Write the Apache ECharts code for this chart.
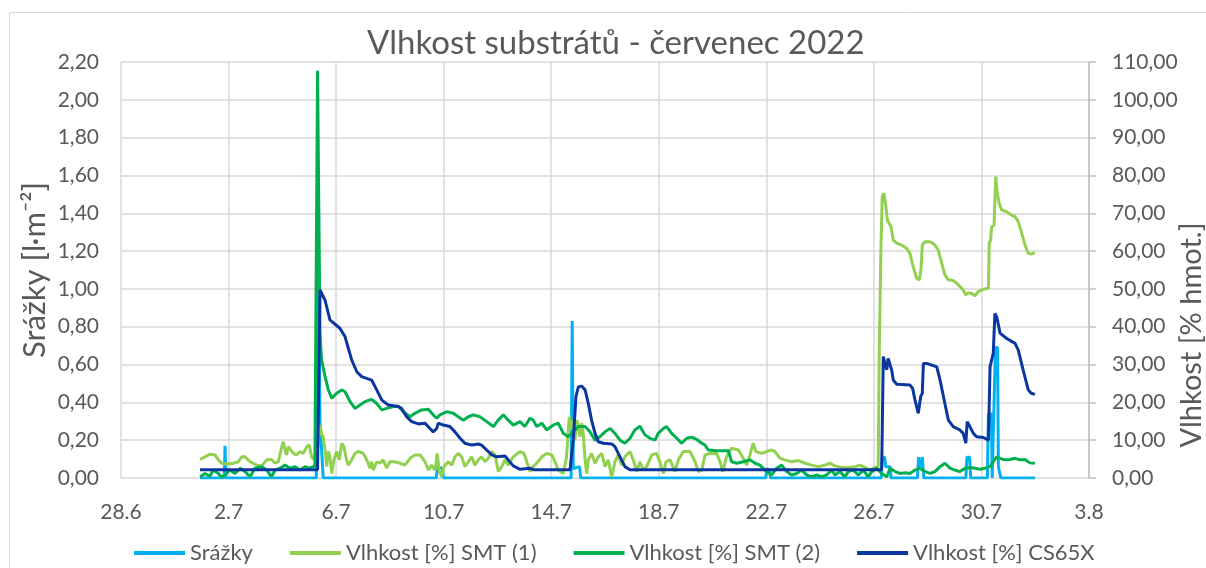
<!DOCTYPE html>
<html>
<head>
<meta charset="utf-8">
<title>Vlhkost substrátů - červenec 2022</title>
<script src="https://cdn.jsdelivr.net/npm/echarts/dist/echarts.min.js"></script>
<style>
    html, body { margin: 0; padding: 0; background: #fff; }
    #chart { width: 1206px; height: 568px; }
</style>
</head>
<body>
<div id="chart"></div>
<script>
// x = dny od 28.6. 00:00 (3 = 1.7., 34 = 1.8.)
var xTicks = { min: 0, max: 36, step: 4 };
var leftTicks = { min: 0, max: 2.2, step: 0.2 };
var rightTicks = { min: 0, max: 110, step: 10 };

// Srážky [l/m2] - levá osa
var srazky = [
    [2.94, 0], [3.84, 0], [3.87, 0.17], [3.90, 0],
    [7.26, 0], [7.30, 0.30], [7.34, 1.32], [7.40, 0.30], [7.48, 0.10], [7.52, 0],
    [11.72, 0], [11.78, 0.06], [11.95, 0.05], [12.00, 0],
    [16.74, 0], [16.78, 0.83], [16.82, 0.05], [17.05, 0.06], [17.10, 0],
    [23.98, 0], [24.02, 0.05], [24.12, 0.04], [24.16, 0],
    [28.27, 0], [28.31, 0.11], [28.40, 0.11], [28.44, 0.06], [28.60, 0.06], [28.64, 0],
    [29.62, 0], [29.66, 0.11], [29.72, 0.06], [29.80, 0.11], [29.86, 0],
    [31.42, 0], [31.46, 0.11], [31.56, 0.11], [31.60, 0],
    [32.22, 0], [32.26, 0.34], [32.37, 0.34], [32.40, 0],
    [32.47, 0], [32.52, 0.69], [32.60, 0.69], [32.63, 0.06], [32.68, 0.06], [32.72, 0],
    [33.99, 0]
];

// Vlhkost [%] SMT (1) - pravá osa
var smt1 = [
    [2.94, 4.9], [3.12, 5.6], [3.31, 6.3], [3.50, 6.1], [3.62, 4.8], [3.74, 3.9], [3.93, 3.7],
    [4.18, 3.9], [4.36, 4.3], [4.49, 5.6], [4.61, 5.6], [4.80, 4.3], [5.05, 3.4], [5.23, 3.2],
    [5.42, 4.8], [5.60, 4.9], [5.73, 3.9], [5.85, 4.3], [5.98, 8.3], [6.04, 9.6], [6.10, 7.4],
    [6.16, 6.1], [6.22, 8.3], [6.28, 8.7], [6.41, 6.5], [6.53, 6.1], [6.66, 7.0], [6.78, 6.5],
    [6.91, 8.3], [7.00, 8.7], [7.09, 5.6], [7.21, 4.8], [7.28, 5.6], [7.40, 14.0], [7.46, 11.8],
    [7.52, 10.9], [7.59, 7.4], [7.65, 3.0], [7.71, 7.0], [7.77, 5.6], [7.84, 1.2], [7.92, 4.8],
    [8.02, 7.0], [8.12, 4.8], [8.21, 9.2], [8.29, 8.3], [8.39, 4.8], [8.45, 3.4], [8.58, 4.8],
    [8.70, 6.5], [8.82, 7.0], [9.01, 6.5], [9.14, 4.8], [9.26, 2.6], [9.32, 4.3], [9.38, 2.1],
    [9.51, 4.3], [9.63, 3.9], [9.75, 4.8], [9.88, 2.6], [10.00, 4.3], [10.19, 4.3], [10.38, 3.9],
    [10.56, 3.4], [10.75, 5.2], [10.93, 6.1], [11.12, 6.1], [11.31, 4.3], [11.43, 2.1], [11.55, 3.4],
    [11.68, 2.1], [11.76, 6.5], [11.84, 1.7], [11.93, 0.3], [12.01, 3.0], [12.17, 4.3], [12.30, 3.4],
    [12.42, 5.6], [12.54, 6.5], [12.67, 5.6], [12.79, 3.0], [12.92, 4.3], [13.04, 5.6], [13.16, 3.4],
    [13.29, 4.8], [13.41, 5.6], [13.54, 4.3], [13.66, 5.2], [13.79, 7.0], [13.91, 6.1], [14.03, 1.7],
    [14.16, 3.0], [14.28, 4.8], [14.40, 3.4], [14.59, 5.6], [14.84, 7.0], [14.99, 6.5], [15.09, 4.3],
    [15.21, 1.7], [15.33, 3.0], [15.46, 3.9], [15.65, 5.6], [15.83, 6.5], [16.02, 6.1], [16.14, 4.3],
    [16.26, 2.1], [16.45, 1.2], [16.57, 5.6], [16.67, 16.2], [16.73, 12.7], [16.82, 15.3], [16.88, 10.0],
    [16.95, 15.3], [17.01, 13.6], [17.07, 10.9], [17.13, 14.5], [17.19, 11.8], [17.26, 4.8], [17.32, 1.2],
    [17.38, 4.8], [17.50, 6.5], [17.63, 3.9], [17.75, 5.6], [17.88, 6.5], [18.00, 3.0], [18.12, 4.8],
    [18.25, 0.3], [18.37, 4.3], [18.49, 6.1], [18.62, 3.4], [18.74, 5.6], [18.93, 7.0], [19.05, 4.8],
    [19.18, 1.7], [19.30, 4.3], [19.42, 2.1], [19.55, 3.0], [19.74, 6.1], [19.92, 6.5], [20.04, 4.3],
    [20.17, 1.2], [20.27, 4.3], [20.42, 4.8], [20.60, 1.7], [20.73, 4.8], [20.91, 7.0], [21.16, 7.0],
    [21.35, 4.3], [21.47, 1.7], [21.60, 2.1], [21.72, 6.1], [21.91, 6.5], [22.15, 6.5], [22.28, 4.3],
    [22.38, 1.7], [22.52, 5.6], [22.71, 7.9], [22.96, 7.4], [23.14, 5.2], [23.27, 3.4], [23.39, 6.1],
    [23.51, 9.2], [23.61, 7.0], [23.83, 6.5], [24.01, 7.0], [24.20, 7.4], [24.32, 7.0], [24.51, 5.2],
    [24.69, 4.8], [24.94, 4.3], [25.19, 4.6], [25.44, 3.9], [25.69, 3.4], [25.93, 3.0], [26.18, 3.4],
    [26.37, 3.9], [26.55, 3.2], [26.80, 2.8], [27.05, 2.8], [27.30, 3.0], [27.48, 3.4], [27.67, 2.8],
    [27.85, 2.1], [28.04, 2.8], [28.16, 3.0], [28.20, 33.8], [28.26, 60.3], [28.31, 74.4], [28.37, 75.3],
    [28.45, 71.7], [28.50, 68.2], [28.57, 68.7], [28.64, 66.4], [28.72, 62.9], [28.85, 62.1], [29.03, 61.6],
    [29.22, 60.7], [29.34, 59.4], [29.46, 55.9], [29.59, 52.8], [29.69, 52.4], [29.75, 55.0], [29.80, 61.6],
    [29.90, 62.5], [30.09, 62.5], [30.27, 61.6], [30.39, 60.3], [30.52, 56.8], [30.64, 53.7], [30.77, 52.4],
    [30.95, 52.2], [31.08, 51.5], [31.20, 50.6], [31.32, 49.7], [31.42, 48.4], [31.51, 49.0], [31.64, 48.8],
    [31.76, 48.2], [31.88, 49.3], [32.07, 49.9], [32.26, 50.2], [32.29, 62.1], [32.34, 62.9], [32.38, 66.4],
    [32.47, 66.9], [32.53, 79.7], [32.59, 75.3], [32.66, 72.6], [32.75, 70.9], [32.94, 70.4], [33.12, 69.5],
    [33.25, 69.1], [33.37, 67.8], [33.50, 64.7], [33.62, 61.6], [33.74, 59.4], [33.85, 59.2], [33.99, 59.6]
];

// Vlhkost [%] SMT (2) - pravá osa
var smt2 = [
    [2.94, 0.3], [3.12, 1.2], [3.31, 0.5], [3.43, 2.1], [3.62, 1.2], [3.74, 0.2], [3.87, 0.8],
    [4.05, 2.1], [4.24, 1.2], [4.43, 2.6], [4.61, 1.7], [4.80, 0.3], [4.98, 2.6], [5.23, 3.0],
    [5.42, 2.1], [5.60, 0.3], [5.73, 2.1], [5.91, 2.6], [6.10, 3.4], [6.28, 2.6], [6.47, 3.0],
    [6.66, 2.1], [6.84, 3.0], [7.03, 2.6], [7.21, 3.2], [7.31, 107.7], [7.40, 38.3], [7.46, 31.2],
    [7.59, 26.8], [7.71, 23.3], [7.84, 21.1], [8.02, 22.4], [8.21, 23.3], [8.33, 22.8], [8.52, 20.2],
    [8.70, 18.4], [8.89, 19.3], [9.07, 20.2], [9.32, 20.8], [9.51, 19.7], [9.70, 18.0], [9.88, 18.4],
    [10.13, 18.9], [10.31, 19.0], [10.50, 17.5], [10.75, 16.2], [10.93, 17.1], [11.18, 18.0], [11.43, 18.2],
    [11.61, 16.7], [11.74, 15.8], [11.86, 16.7], [12.11, 17.5], [12.36, 17.1], [12.54, 16.2], [12.73, 15.3],
    [12.92, 16.2], [13.10, 16.7], [13.35, 16.2], [13.60, 14.9], [13.85, 13.6], [14.03, 15.3], [14.22, 16.7],
    [14.40, 15.3], [14.59, 14.0], [14.84, 14.9], [15.02, 13.6], [15.21, 15.8], [15.33, 15.3], [15.46, 13.6],
    [15.65, 14.5], [15.83, 12.7], [16.08, 14.0], [16.26, 14.5], [16.45, 11.8], [16.63, 10.9], [16.82, 12.2],
    [17.01, 13.6], [17.26, 13.6], [17.44, 12.2], [17.63, 10.0], [17.81, 10.9], [18.00, 12.2], [18.19, 13.1],
    [18.37, 11.8], [18.56, 10.0], [18.74, 9.2], [18.93, 10.5], [19.11, 12.7], [19.30, 13.7], [19.49, 11.4],
    [19.67, 10.5], [19.86, 10.0], [19.98, 11.8], [20.17, 13.1], [20.29, 13.6], [20.48, 11.8], [20.67, 10.5],
    [20.85, 9.2], [21.04, 10.5], [21.22, 10.8], [21.41, 10.2], [21.60, 9.2], [21.72, 8.7], [21.84, 7.4],
    [22.15, 7.2], [22.59, 7.2], [22.71, 4.3], [22.90, 3.9], [23.14, 4.3], [23.39, 4.8], [23.58, 3.9],
    [23.76, 3.4], [24.01, 1.7], [24.20, 0.8], [24.38, 2.6], [24.57, 3.4], [24.76, 1.7], [24.94, 0.8],
    [25.13, 1.2], [25.31, 2.1], [25.50, 0.8], [25.69, 0.3], [25.87, 0.8], [26.06, 0.3], [26.24, 0.8],
    [26.43, 2.1], [26.55, 0.8], [26.74, 1.7], [26.92, 0.3], [27.05, 1.7], [27.23, 2.1], [27.42, 0.8],
    [27.61, 2.1], [27.79, 0.3], [27.92, 1.7], [28.10, 2.6], [28.29, 1.2], [28.48, 0.3], [28.60, 2.6],
    [28.79, 1.7], [28.97, 1.2], [29.16, 1.4], [29.34, 1.2], [29.53, 2.1], [29.71, 2.6], [29.90, 1.7],
    [30.09, 1.2], [30.27, 1.7], [30.46, 3.0], [30.64, 3.9], [30.83, 2.6], [31.01, 2.1], [31.20, 1.7],
    [31.39, 2.6], [31.57, 2.8], [31.76, 2.6], [31.94, 2.3], [32.13, 2.6], [32.32, 3.0], [32.44, 4.3],
    [32.57, 5.6], [32.69, 5.2], [32.87, 4.8], [33.06, 4.9], [33.25, 5.2], [33.43, 4.8], [33.62, 4.9],
    [33.80, 4.0], [33.99, 3.9]
];

// Vlhkost [%] CS65X - pravá osa
var cs65x = [
    [2.94, 2.2], [7.31, 2.2], [7.40, 49.7], [7.59, 47.0], [7.77, 41.8], [8.14, 39.6], [8.33, 37.4],
    [8.58, 31.2], [8.77, 28.1], [8.95, 26.8], [9.32, 25.9], [9.51, 23.3], [9.70, 20.6], [9.94, 19.3],
    [10.31, 18.9], [10.44, 18.4], [10.62, 16.2], [10.81, 14.9], [11.06, 14.3], [11.31, 14.5], [11.49, 13.1],
    [11.61, 12.2], [11.74, 13.1], [11.80, 14.5], [11.99, 14.0], [12.23, 13.6], [12.42, 12.2], [12.61, 10.5],
    [12.79, 9.2], [13.04, 8.7], [13.29, 9.0], [13.41, 8.7], [13.60, 7.4], [13.79, 6.1], [13.97, 5.6],
    [14.28, 5.8], [14.40, 4.8], [14.59, 3.2], [14.84, 2.3], [15.21, 2.6], [15.33, 2.2], [16.70, 2.2],
    [16.82, 10.0], [16.92, 21.5], [17.01, 24.1], [17.13, 24.3], [17.26, 23.3], [17.38, 19.7], [17.50, 15.3],
    [17.63, 11.8], [17.75, 9.6], [17.94, 9.2], [18.25, 9.0], [18.37, 8.3], [18.56, 5.6], [18.74, 3.0],
    [18.93, 2.2], [28.29, 2.2], [28.35, 32.1], [28.41, 30.3], [28.48, 28.6], [28.53, 31.6], [28.60, 31.6],
    [28.66, 28.6], [28.72, 25.9], [28.85, 24.8], [29.34, 24.6], [29.44, 23.7], [29.53, 20.6], [29.65, 17.1],
    [29.74, 21.5], [29.80, 22.4], [29.84, 30.3], [29.96, 30.3], [30.34, 29.4], [30.46, 25.9], [30.64, 19.7],
    [30.77, 15.3], [30.95, 13.6], [31.20, 12.7], [31.32, 11.8], [31.42, 9.2], [31.47, 14.9], [31.57, 13.6],
    [31.70, 11.8], [31.82, 10.9], [32.07, 10.7], [32.26, 10.0], [32.32, 29.4], [32.44, 33.0], [32.50, 43.5],
    [32.57, 42.6], [32.69, 38.3], [32.94, 36.9], [33.25, 35.6], [33.37, 33.8], [33.55, 28.6], [33.74, 23.3],
    [33.85, 22.4], [33.99, 22.1]
];

var seriesNames = ['Srážky', 'Vlhkost [%] SMT (1)', 'Vlhkost [%] SMT (2)', 'Vlhkost [%] CS65X'];
var seriesColors = ['#00B0F0', '#92D050', '#00B050', '#0B36A0'];

var FONT = 'Lato, "DejaVu Sans", sans-serif';
var TEXT = '#595959';
var GRID = '#d9d9d9';

function dateLabel(v) {
    // 0 = 28.6.2022
    var d = new Date(2022, 5, 28 + Math.round(v));
    return d.getDate() + '.' + (d.getMonth() + 1);
}
function czNum(v) {
    return v.toFixed(2).replace('.', ',');
}
function lineSeries(i, data, axis) {
    return {
        name: seriesNames[i],
        type: 'line',
        yAxisIndex: axis,
        data: data,
        showSymbol: false,
        symbol: 'none',
        color: seriesColors[i],
        lineStyle: { width: 3, color: seriesColors[i] },
        emphasis: { disabled: true }
    };
}

var chart = echarts.init(document.getElementById('chart'), null, { renderer: 'canvas' });
var option = {
    animation: false,
    backgroundColor: '#fff',
    textStyle: { fontFamily: FONT, color: TEXT },
    graphic: [{
        type: 'rect',
        left: 7, top: 10,
        shape: { width: 1215, height: 575 },
        style: { fill: 'none', stroke: GRID, lineWidth: 1 },
        silent: true
    }],
    title: {
        text: 'Vlhkost substrátů - červenec 2022',
        left: 362,
        top: 22,
        textStyle: { fontFamily: FONT, fontSize: 33, fontWeight: 'normal', color: TEXT }
    },
    legend: {
        data: seriesNames,
        left: 129,
        top: 537,
        icon: 'rect',
        itemWidth: 51,
        itemHeight: 4,
        itemGap: 37,
        textStyle: { fontFamily: FONT, fontSize: 22, color: TEXT }
    },
    grid: { left: 121, right: 117, top: 62, bottom: 90, containLabel: false, outerBoundsMode: 'none' },
    xAxis: {
        type: 'value',
        min: xTicks.min,
        max: xTicks.max,
        interval: xTicks.step,
        axisLine: { show: false },
        axisTick: { show: false },
        axisLabel: { formatter: dateLabel, fontFamily: FONT, fontSize: 21, color: TEXT, margin: 24 },
        splitLine: { show: true, lineStyle: { color: GRID, width: 1.5 } }
    },
    yAxis: [{
        type: 'value',
        min: leftTicks.min,
        max: leftTicks.max,
        interval: leftTicks.step,
        name: 'Srážky [l·m⁻²]',
        nameLocation: 'middle',
        nameGap: 71,
        nameMoveOverlap: false,
        nameTextStyle: { fontFamily: FONT, fontSize: 31, color: TEXT },
        axisLine: { show: false },
        axisTick: { show: false },
        axisLabel: { formatter: czNum, fontFamily: FONT, fontSize: 21, color: TEXT, margin: 22 },
        splitLine: { show: true, lineStyle: { color: GRID, width: 1.5 } }
    }, {
        type: 'value',
        position: 'right',
        min: rightTicks.min,
        max: rightTicks.max,
        interval: rightTicks.step,
        name: 'Vlhkost [% hmot.]',
        nameLocation: 'middle',
        nameRotate: 90,
        nameGap: 88,
        nameMoveOverlap: false,
        // titulek je v originále posunutý dolů
        nameTextStyle: { fontFamily: FONT, fontSize: 29, color: TEXT, padding: [0, 130, 0, 0] },
        axisLine: { show: true, lineStyle: { color: '#bfbfbf', width: 1.5 } },
        axisTick: { show: true, length: 7, lineStyle: { color: '#bfbfbf', width: 1.5 } },
        axisLabel: { formatter: czNum, fontFamily: FONT, fontSize: 21, color: TEXT, margin: 23 },
        splitLine: { show: false }
    }],
    series: [
        lineSeries(0, srazky, 0),
        lineSeries(1, smt1, 1),
        lineSeries(2, smt2, 1),
        lineSeries(3, cs65x, 1)
    ]
};
chart.setOption(option);
</script>
</body>
</html>
